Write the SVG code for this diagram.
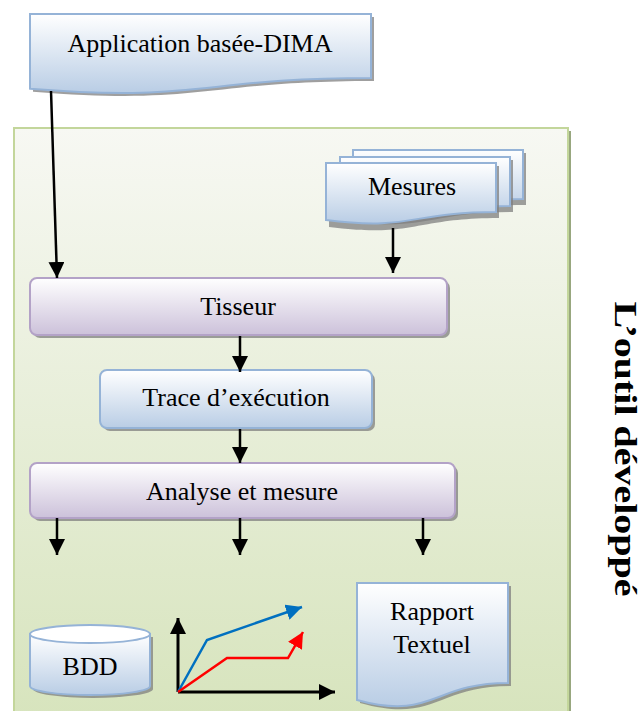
<svg xmlns="http://www.w3.org/2000/svg" width="643" height="711" viewBox="0 0 643 711">
<style>
.t{font-family:"Liberation Serif","Times New Roman",serif;font-size:26px;fill:#000;text-anchor:middle}
.blue{fill:url(#gBlue);stroke:#95b3d7;stroke-width:2}
.purple{fill:url(#gPurple);stroke:#b3a2c7;stroke-width:2}
.sh{fill:#7f7f7f;opacity:0.75}
.arr{stroke:#000;stroke-width:2.5;fill:none;marker-end:url(#ah)}
</style>
<defs>
<linearGradient id="gBlue" x1="0" y1="0" x2="0" y2="1">
<stop offset="0" stop-color="#ffffff"/><stop offset="1" stop-color="#b9cde5"/>
</linearGradient>
<linearGradient id="gPurple" x1="0" y1="0" x2="0" y2="1">
<stop offset="0" stop-color="#ffffff"/><stop offset="1" stop-color="#ccc1da"/>
</linearGradient>
<linearGradient id="gGreen" x1="0" y1="0" x2="0" y2="1">
<stop offset="0" stop-color="#f7f8f3"/><stop offset="1" stop-color="#d7e4bd"/>
</linearGradient>
<marker id="ah" viewBox="0 0 16 16" refX="16" refY="8" markerWidth="16" markerHeight="16" markerUnits="userSpaceOnUse" orient="auto">
<path d="M0,0 L16,8 L0,16 Z" fill="#000"/>
</marker>
<marker id="ahB" viewBox="0 0 16 16" refX="16" refY="8" markerWidth="16" markerHeight="16" markerUnits="userSpaceOnUse" orient="auto">
<path d="M0,0 L16,8 L0,16 Z" fill="#0070c0"/>
</marker>
<marker id="ahR" viewBox="0 0 16 16" refX="16" refY="8" markerWidth="16" markerHeight="16" markerUnits="userSpaceOnUse" orient="auto">
<path d="M0,0 L16,8 L0,16 Z" fill="#ff0000"/>
</marker>
</defs>

<g id="outil">
<rect x="17" y="131" width="554" height="590" fill="#98a77f"/>
<rect x="14" y="128" width="554" height="590" fill="url(#gGreen)" stroke="#c3d69b" stroke-width="2"/>
<text transform="translate(615,449) rotate(90) scale(1,0.78)" style="font-family:'Liberation Serif','Times New Roman',serif;font-size:40px;font-weight:bold;text-anchor:middle">L’outil développé</text>
</g>

<g id="application">
<path class="sh" d="M33,17 H374 V81 C203.5,81 203.5,105.6 33,91.7 Z"/>
<path class="blue" d="M30,14 H371 V78 C200.5,78 200.5,102.6 30,88.7 Z"/>
<text class="t" x="200" y="52">Application basée-DIMA</text>
</g>

<g id="mesures">
<path class="sh" d="M356,153 H526 V205 C441,205 441,225 356,214 Z"/>
<path class="blue" d="M353,150 H523 V199 C438,199 438,218 353,207 Z"/>
<path class="sh" d="M343,160 H513 V212 C428,212 428,232 343,221 Z"/>
<path class="blue" d="M340,157 H510 V206 C425,206 425,225 340,214 Z"/>
<path class="sh" d="M329,166 H499 V218 C414,218 414,238 329,227 Z"/>
<path class="blue" d="M326,163 H496 V212 C411,212 411,231 326,220 Z"/>
<text class="t" x="412" y="195">Mesures</text>
</g>

<g id="tisseur">
<rect class="sh" x="33" y="281" width="417" height="57" rx="7"/>
<rect class="purple" x="30" y="278" width="417" height="57" rx="7"/>
<text class="t" x="238" y="315">Tisseur</text>
</g>

<g id="trace">
<rect class="sh" x="103" y="373" width="272" height="58" rx="7"/>
<rect class="blue" x="100" y="370" width="272" height="58" rx="7"/>
<text class="t" x="236" y="406">Trace d’exécution</text>
</g>

<g id="analyse">
<rect class="sh" x="33" y="466" width="425" height="55" rx="7"/>
<rect class="purple" x="30" y="463" width="425" height="55" rx="7"/>
<text class="t" x="242" y="500">Analyse et mesure</text>
</g>

<g id="bdd">
<path class="sh" d="M33,637 V689 A60,9 0 0 0 153,689 V637 Z"/>
<path class="blue" d="M30,634 V686 A60,9 0 0 0 150,686 V634 Z"/>
<ellipse cx="90" cy="634" rx="60" ry="9" fill="#ffffff" stroke="#95b3d7" stroke-width="2"/>
<text class="t" x="90" y="675">BDD</text>
</g>

<g id="graphique">
<line x1="178" y1="692" x2="178" y2="618" stroke="#000" stroke-width="3" marker-end="url(#ah)"/>
<line x1="178" y1="692" x2="335" y2="692" stroke="#000" stroke-width="3" marker-end="url(#ah)"/>
<polyline points="178,692 207,640 302,607" fill="none" stroke="#0070c0" stroke-width="2.5" marker-end="url(#ahB)"/>
<polyline points="178,692 227,658 288,658 303,632" fill="none" stroke="#ff0000" stroke-width="2.5" marker-end="url(#ahR)"/>
</g>

<g id="rapport">
<path class="sh" d="M360,586 H511 V686 C435.5,686 435.5,724 360,703 Z"/>
<path class="blue" d="M357,583 H508 V683 C432.5,683 432.5,721 357,700 Z"/>
<text class="t" x="432" y="620">Rapport</text>
<text class="t" x="432" y="653">Textuel</text>
</g>

<g id="connecteurs">
<line class="arr" x1="51" y1="91" x2="57" y2="278"/>
<line class="arr" x1="393" y1="228" x2="393" y2="273"/>
<line class="arr" x1="240" y1="336" x2="240" y2="372"/>
<line class="arr" x1="240" y1="429" x2="240" y2="463"/>
<line class="arr" x1="57" y1="518" x2="57" y2="555"/>
<line class="arr" x1="240" y1="518" x2="240" y2="555"/>
<line class="arr" x1="423" y1="518" x2="423" y2="555"/>
</g>
</svg>
